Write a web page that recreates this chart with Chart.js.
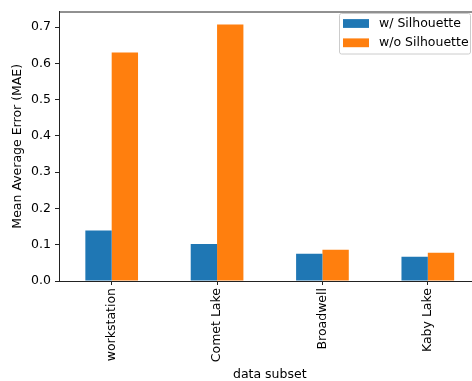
<!DOCTYPE html>
<html>
<head>
<meta charset="utf-8">
<script src="https://cdn.jsdelivr.net/npm/chart.js@4.4.1/dist/chart.umd.min.js"></script>
<style>
  html, body { margin: 0; padding: 0; background: #fff; overflow: hidden; }
  #wrap { width: 490px; height: 381px; }
</style>
</head>
<body>
<div id="wrap"><canvas id="c" width="490" height="381"></canvas></div>
<script>
const categories = ["workstation", "Comet Lake", "Broadwell", "Kaby Lake"];
const withSilhouette = [0.139, 0.102, 0.075, 0.067];
const withoutSilhouette = [0.630, 0.707, 0.086, 0.078];
const seriesLabels = ["w/ Silhouette", "w/o Silhouette"];
const yTicks = [0.0, 0.1, 0.2, 0.3, 0.4, 0.5, 0.6, 0.7];

const FONT = "'DejaVu Sans', sans-serif";
const FS = 12.5;

const framePlugin = {
  id: 'frame',
  afterDraw(chart) {
    const ctx = chart.ctx;
    const a = chart.chartArea;
    ctx.save();
    ctx.strokeStyle = '#222';
    ctx.lineWidth = 1;
    ctx.beginPath();
    ctx.moveTo(a.left, a.top + 0.5);
    ctx.lineTo(a.right, a.top + 0.5);
    ctx.moveTo(a.right - 0.5, a.top);
    ctx.lineTo(a.right - 0.5, a.bottom);
    ctx.stroke();

    // legend box
    const bx = 339.5, by = 13.5, bw = 131, bh = 40.5, r = 2;
    ctx.fillStyle = 'rgba(255,255,255,0.8)';
    ctx.strokeStyle = '#cccccc';
    ctx.beginPath();
    ctx.moveTo(bx + r, by);
    ctx.lineTo(bx + bw - r, by);
    ctx.quadraticCurveTo(bx + bw, by, bx + bw, by + r);
    ctx.lineTo(bx + bw, by + bh - r);
    ctx.quadraticCurveTo(bx + bw, by + bh, bx + bw - r, by + bh);
    ctx.lineTo(bx + r, by + bh);
    ctx.quadraticCurveTo(bx, by + bh, bx, by + bh - r);
    ctx.lineTo(bx, by + r);
    ctx.quadraticCurveTo(bx, by, bx + r, by);
    ctx.closePath();
    ctx.fill();
    ctx.stroke();

    ctx.font = FS + 'px ' + FONT;
    ctx.textBaseline = 'middle';
    ctx.textAlign = 'left';
    chart.data.datasets.forEach((ds, i) => {
      const cy = 23.5 + i * 19.3;
      ctx.fillStyle = ds.backgroundColor;
      ctx.fillRect(343, cy - 4.4, 26, 8.8);
      ctx.fillStyle = '#000';
      ctx.fillText(ds.label, 379, cy);
    });
    ctx.restore();
  }
};

new Chart(document.getElementById('c'), {
  type: 'bar',
  data: {
    labels: categories,
    datasets: [
      { label: seriesLabels[0], data: withSilhouette, backgroundColor: '#1f77b4', borderWidth: 0 },
      { label: seriesLabels[1], data: withoutSilhouette, backgroundColor: '#ff7f0e', borderWidth: 0 }
    ]
  },
  options: {
    responsive: false,
    animation: false,
    devicePixelRatio: 1,
    layout: { padding: { top: 7, right: 9.5, bottom: 0, left: 0 } },
    plugins: { legend: { display: false }, tooltip: { enabled: false } },
    datasets: { bar: { categoryPercentage: 0.5, barPercentage: 1.0 } },
    scales: {
      x: {
        grid: { display: true, drawOnChartArea: false, drawTicks: true, tickLength: 4, tickColor: '#222', offset: false },
        border: { display: true, color: '#222', width: 1 },
        ticks: {
          font: { family: FONT, size: FS },
          color: '#000',
          minRotation: 90, maxRotation: 90,
          padding: 3,
          autoSkip: false
        },
        title: {
          display: true, text: 'data subset',
          font: { family: FONT, size: FS, lineHeight: 1 },
          color: '#000',
          padding: { top: 0, bottom: 0 }
        },
        afterFit(scale) { scale.height = 100; }
      },
      y: {
        min: 0, max: 0.743,
        grid: { display: true, drawOnChartArea: false, drawTicks: true, tickLength: 4, tickColor: '#222' },
        border: { display: true, color: '#222', width: 1 },
        afterBuildTicks(scale) { scale.ticks = yTicks.map(v => ({ value: v })); },
        ticks: {
          font: { family: FONT, size: FS },
          color: '#000',
          padding: 4,
          callback: (v) => Number(v).toFixed(1)
        },
        title: {
          display: true, text: 'Mean Average Error (MAE)',
          font: { family: FONT, size: FS, lineHeight: 1.2 },
          color: '#000',
          padding: { top: 10, bottom: 0 }
        },
        afterFit(scale) { scale.width = 59; }
      }
    }
  },
  plugins: [framePlugin]
});
</script>
</body>
</html>
